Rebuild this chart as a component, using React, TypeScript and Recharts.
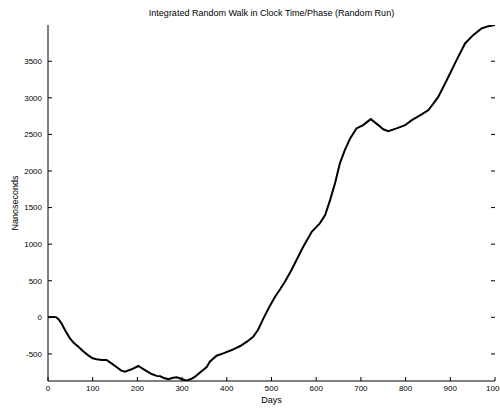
import React from 'react';
import { LineChart, Line, XAxis, YAxis } from 'recharts';

const days = [
  0, 8, 18, 24, 30, 38, 49, 58, 68, 78, 90, 100, 109, 120, 131, 142, 154, 163, 172, 187,
  202, 217, 232, 243, 251, 260, 269, 280, 288, 299, 310, 321, 329, 336, 347, 355, 362, 377,
  392, 411, 430, 445, 459, 470, 482, 495, 508, 520, 530, 545, 556, 571, 590, 608, 620, 631,
  642, 653, 664, 676, 690, 705, 722, 739, 750, 761, 780, 799, 814, 836, 851, 862, 873, 892,
  914, 933, 951, 970, 985, 1000,
];
const nanoseconds = [
  0, 5, 3, -30, -82, -173, -287, -350, -401, -460, -520, -560, -574, -583, -583, -629, -683, -725, -743, -710,
  -665, -720, -775, -800, -805, -830, -847, -825, -820, -843, -866, -840, -811, -775, -720, -680, -606, -524,
  -492, -447, -392, -333, -265, -170, -14, 140, 281, 390, 486, 650, 783, 964, 1169, 1284, 1397, 1602,
  1830, 2104, 2285, 2445, 2582, 2627, 2709, 2627, 2570, 2545, 2582, 2627, 2695, 2773, 2832, 2920, 3013, 3241,
  3515, 3743, 3856, 3948, 3979, 3995,
];
const xTicks = [0, 100, 200, 300, 400, 500, 600, 700, 800, 900, 1000];
const yTicks = [-500, 0, 500, 1000, 1500, 2000, 2500, 3000, 3500];
const xDomain = [0, 1000];
const yDomain = [-870, 3995];
const title = 'Integrated Random Walk in Clock Time/Phase (Random Run)';
const xLabel = 'Days';
const yLabel = 'Nanoseconds';

const data = days.map((d, i) => ({ day: d, ns: nanoseconds[i] }));

const FONT = '"Liberation Sans", Arial, Helvetica, sans-serif';
const tickStyle = { fill: '#000', fontSize: 8, fontFamily: FONT };
const Empty = () => <g />;

export default function App() {
  return (
    <div style={{ position: 'absolute', left: 0, top: 0, width: 500, height: 408, background: '#fff', fontFamily: FONT }}>
      <div
        style={{
          position: 'absolute', left: 48, width: 447, top: 9, textAlign: 'center',
          fontSize: 9, lineHeight: '9px', color: '#000', whiteSpace: 'nowrap',
        }}
      >
        {title}
      </div>
      <LineChart width={500} height={408} data={data} margin={{ top: 25, right: 0, bottom: 0, left: 0 }}>
        <XAxis
          xAxisId="bottom" dataKey="day" type="number" domain={xDomain} ticks={xTicks} interval={0}
          orientation="bottom" height={27} tickSize={-4} tickMargin={8} stroke="#000" allowDataOverflow
          tick={tickStyle}
          label={{ value: xLabel, position: 'insideBottom', offset: 5, fill: '#000', fontSize: 9, fontFamily: FONT }}
        />
        <XAxis
          xAxisId="top" dataKey="day" type="number" domain={xDomain} ticks={xTicks} interval={0}
          orientation="top" height={0} tickSize={-4} stroke="#000" axisLine={false} allowDataOverflow
          tick={<Empty />}
        />
        <YAxis
          yAxisId="left" dataKey="ns" type="number" domain={yDomain} ticks={yTicks} interval={0}
          width={48} tickSize={-4} tickMargin={10} stroke="#000" allowDataOverflow
          tick={tickStyle}
          label={{
            value: yLabel, angle: -90, position: 'insideLeft', offset: 15, fill: '#000', fontSize: 9,
            fontFamily: FONT, style: { textAnchor: 'middle' },
          }}
        />
        <YAxis
          yAxisId="right" dataKey="ns" type="number" domain={yDomain} ticks={yTicks} interval={0}
          orientation="right" width={5} tickSize={-4} stroke="#000" axisLine={false} allowDataOverflow
          tick={<Empty />}
        />
        <Line
          xAxisId="bottom" yAxisId="left" dataKey="ns" type="linear" stroke="#000" strokeWidth={2}
          dot={false} activeDot={false} isAnimationActive={false}
        />
      </LineChart>
    </div>
  );
}
